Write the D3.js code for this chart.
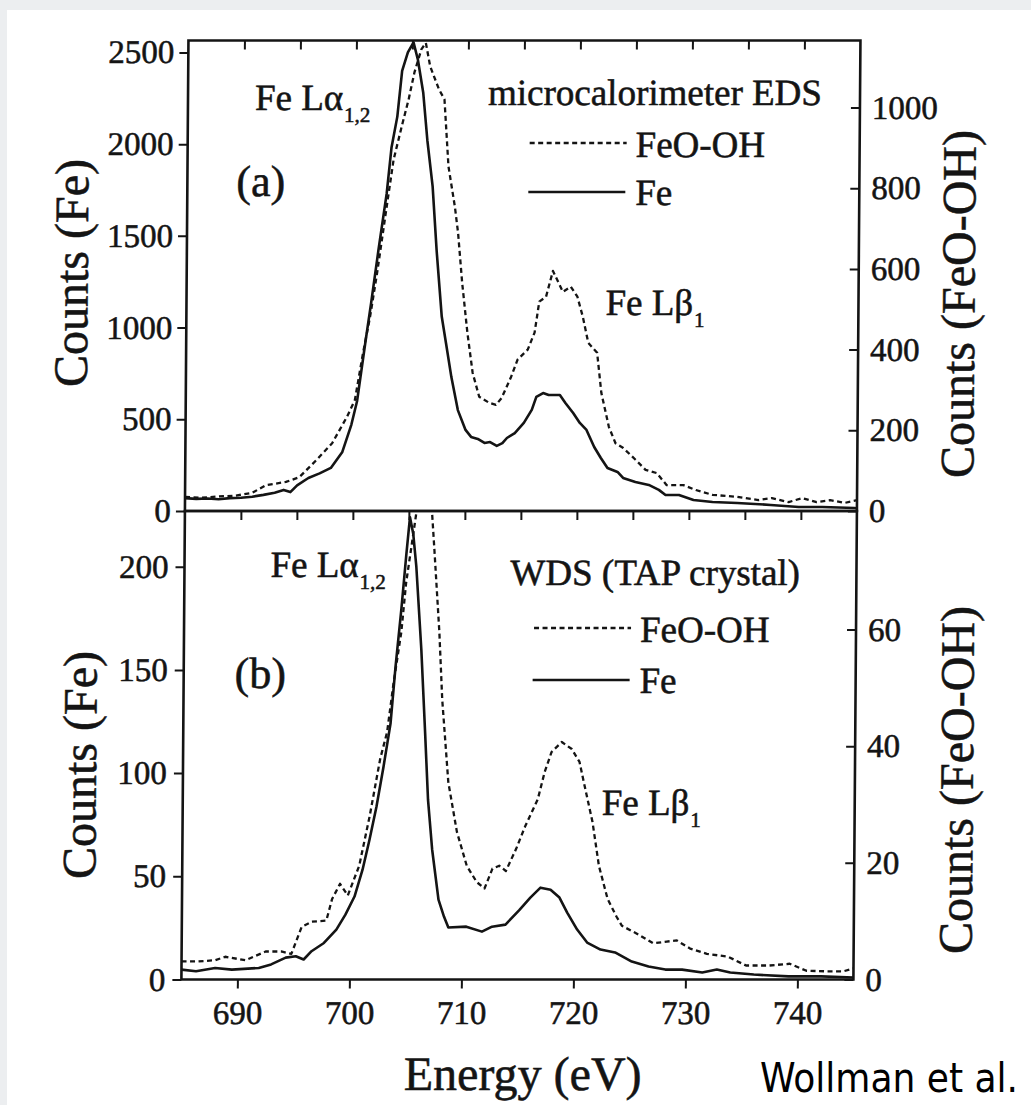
<!DOCTYPE html>
<html>
<head>
<meta charset="utf-8">
<script src="https://cdn.jsdelivr.net/npm/d3@7"></script>
<style>
  html, body { margin: 0; padding: 0; background: #eceef0; }
  svg { display: block; }
</style>
</head>
<body>
<svg id="chart" width="1031" height="1105"></svg>
<script>
// ---- axis ranges and tick values ----
const energyDomain = [685, 745];
const energyTicks = [690, 700, 710, 720, 730, 740];
const energyMinorTicks = [690, 695, 700, 705, 710, 715, 720, 725, 730, 735, 740];

const edsFeMax = 2565, edsOxMax = 1166;
const edsFeTicks = [0, 500, 1000, 1500, 2000, 2500];
const edsOxTicks = [0, 200, 400, 600, 800, 1000];

const wdsFeMax = 227, wdsOxMax = 80.3;
const wdsFeTicks = [0, 50, 100, 150, 200];
const wdsOxTicks = [0, 20, 40, 60];

// ---- (a) microcalorimeter EDS spectra: [energy eV, counts] ----
const edsFe = [
  [685.0,70],[686.0,66],[687.0,68],[688.0,64],[689.0,70],[690.0,72],[691.0,78],[692.0,88],
  [693.0,100],[693.8,115],[694.4,103],[695.0,140],[696.0,180],[697.0,205],[698.0,235],
  [699.0,320],[699.8,470],[700.3,600],[701.0,920],[701.5,1140],[702.1,1420],[702.8,1730],
  [703.2,1980],[703.7,2150],[704.1,2400],[704.6,2500],[705.1,2555],[705.5,2460],[706.0,2280],
  [706.4,2020],[706.9,1770],[707.3,1420],[707.8,1060],[708.2,915],[708.7,730],[709.3,550],
  [710.0,442],[710.5,404],[711.1,393],[711.7,371],[712.2,376],[712.8,355],[713.3,370],
  [713.7,398],[714.4,425],[715.2,480],[715.9,551],[716.3,622],[716.9,643],[717.4,632],
  [718.4,632],[718.9,589],[719.6,534],[720.2,480],[720.8,442],[721.5,349],[722.1,289],
  [722.7,234],[723.6,213],[724.1,180],[725.2,158],[726.4,142],[727.3,115],[727.9,87],
  [729.1,87],[730.4,60],[732.1,49],[734.3,44],[737.3,33],[739.8,22],[741.9,22],[744.8,16],[745.0,15]
];
const edsFeOOH = [
  [685.0,35],[686.5,33],[688.0,36],[689.5,38],[691.0,45],[692.2,64],[694.0,72],[695.2,84],
  [696.7,126],[698.1,168],[699.4,233],[700.1,275],[700.8,392],[701.4,481],[702.0,590],
  [702.9,772],[703.4,871],[704.1,953],[704.7,1020],[705.2,1087],[705.8,1144],[706.2,1160],
  [706.6,1102],[707.4,1045],[707.9,1020],[708.3,854],[708.9,754],[709.2,690],[709.6,566],
  [710.1,442],[710.6,342],[711.2,283],[712.1,268],[712.7,263],[713.2,280],[714.0,330],
  [714.6,375],[715.5,400],[716.1,442],[716.5,519],[717.1,531],[717.7,595],[718.2,566],
  [718.6,543],[719.3,556],[719.9,531],[720.4,481],[720.9,417],[721.7,392],[722.1,293],
  [722.8,208],[723.4,168],[724.1,156],[725.2,127],[726.1,102],[727.1,94],[728.0,64],
  [729.5,64],[730.6,52],[732.1,40],[734.3,35],[736.2,27],[737.4,32],[738.9,22],[740.1,32],
  [741.4,22],[742.6,27],[743.9,20],[745.0,27]
];

// ---- (b) WDS (TAP crystal) spectra: [energy eV, counts] ----
const wdsFe = [
  [685.0,4.8],[686.3,4.0],[688.0,5.6],[689.5,4.8],[691.9,5.6],[693.0,7.3],[694.3,10.6],
  [695.2,11.3],[695.9,9.7],[696.6,13.7],[697.7,17.7],[698.8,24.2],[699.6,31.4],[700.4,40.2],
  [701.1,53.2],[701.7,67.7],[702.3,83.7],[702.9,103],[703.5,124],[703.9,151],[704.4,180],
  [704.8,206],[705.1,224],[705.4,216],[705.7,200],[706.2,160],[706.6,119],[706.9,87],
  [707.3,63],[707.9,38.7],[708.4,30.5],[708.8,25.2],[710.4,25.6],[711.8,23.2],[712.7,25.6],
  [713.9,26.6],[715.1,33.5],[716.1,39.7],[717.0,44.5],[717.9,43.5],[718.7,39.7],[719.4,32.4],
  [720.3,24.2],[721.2,17.9],[722.4,14.5],[723.7,13.1],[725.2,8.7],[726.7,6.3],[728.2,4.8],
  [729.7,4.8],[731.5,3.4],[732.8,4.8],[734.0,3.4],[736.1,2.4],[739.2,1.5],[742.1,1.5],[745.0,1.0]
];
const wdsFeOOH = [
  [685.0,3.1],[686.5,3.1],[688.0,3.3],[688.9,3.9],[690.7,3.3],[692.5,4.8],[693.9,4.8],
  [694.8,4.4],[695.7,9.0],[696.6,9.9],[697.9,10.1],[698.4,13.8],[699.1,16.4],[699.8,14.4],
  [700.8,19.5],[701.7,28],[702.6,37.8],[703.2,42.4],[703.75,50.9],[704.4,59.5],[704.8,68],
  [705.3,74.9],[705.7,80.5],[706.2,83],[706.7,83],[707.05,80.5],[707.3,73.7],[707.8,59.5],
  [708.1,48],[708.7,33.8],[709.5,25.3],[710.4,19.5],[711.3,16.7],[712.0,15.6],[712.7,19],
  [713.3,19.5],[713.9,18.6],[714.8,22.4],[715.6,26.3],[716.7,30.9],[717.3,35.6],[717.9,39],
  [718.8,40.7],[719.7,39.5],[720.4,37.3],[720.8,33.8],[721.6,27],[722.2,19.5],[723.0,13.8],
  [723.8,10.8],[724.3,9.2],[725.6,7.9],[727.1,6.2],[728.3,6.5],[729.2,6.7],[730.4,5.3],
  [731.9,4.4],[733.8,3.9],[735.4,2.4],[737.5,2.4],[739.3,2.7],[740.8,1.5],[742.6,1.4],
  [744.1,1.4],[745.0,1.9]
];

// ---- layout ----
const W = 1031, H = 1105;
const L = 185, R = 857;
const T1 = 40.5, MID = 511, B2 = 979.5;
const SERIF = "'Liberation Serif', 'Times New Roman', serif";
const INK = "#141414";
const TEXT_WEIGHT = 0.55;   // slight outline so the serif glyphs print heavier
const plain = d3.format("d");

const svg = d3.select("#chart");
svg.append("rect").attr("x", 7).attr("y", 10).attr("width", W - 7).attr("height", H - 10).attr("fill", "#ffffff");

// the printed figure sits with a very slight lean
const g = svg.append("g").attr("transform", "translate(0,500) skewX(-0.43) translate(0,-500)");

const x = d3.scaleLinear(energyDomain, [L, R]);

function styleAxis(sel, size) {
  sel.attr("font-family", SERIF).attr("font-size", size).attr("color", INK);
  sel.select(".domain").remove();
  sel.selectAll(".tick line").attr("stroke-width", 2);
  sel.selectAll(".tick text").attr("stroke", INK).attr("stroke-width", TEXT_WEIGHT);
}

function drawPanel(p) {
  const yFe = d3.scaleLinear([0, p.feMax], [p.bottom, p.top]);
  const yOx = d3.scaleLinear([0, p.oxMax], [p.bottom, p.top]);

  const clipId = "clip-" + p.key;
  g.append("clipPath").attr("id", clipId)
    .append("rect").attr("x", L).attr("y", p.top).attr("width", R - L).attr("height", p.bottom - p.top);

  const plot = g.append("g").attr("clip-path", `url(#${clipId})`);
  const lineFe = d3.line().x(d => x(d[0])).y(d => yFe(d[1]));
  const lineOx = d3.line().x(d => x(d[0])).y(d => yOx(d[1]));

  plot.append("path").datum(p.ox).attr("d", lineOx)
    .attr("fill", "none").attr("stroke", INK).attr("stroke-width", 2.3)
    .attr("stroke-dasharray", "5,3.5").attr("stroke-linejoin", "round");
  plot.append("path").datum(p.fe).attr("d", lineFe)
    .attr("fill", "none").attr("stroke", INK).attr("stroke-width", 2.6)
    .attr("stroke-linejoin", "round");

  // left axis (Fe counts), ticks outward
  g.append("g").attr("transform", `translate(${L},0)`)
    .call(d3.axisLeft(yFe).tickValues(p.feTicks).tickFormat(plain)
      .tickSize(9).tickPadding(p.leftPad).tickSizeOuter(0))
    .call(s => styleAxis(s, 33));

  // right axis (FeO-OH counts), ticks inward
  g.append("g").attr("transform", `translate(${R},0)`)
    .call(d3.axisRight(yOx).tickValues(p.oxTicks).tickFormat(plain)
      .tickSizeInner(-9).tickPadding(12).tickSizeOuter(0))
    .call(s => styleAxis(s, 33));

  // frame
  g.append("rect").attr("x", L).attr("y", p.top).attr("width", R - L).attr("height", p.bottom - p.top)
    .attr("fill", "none").attr("stroke", INK).attr("stroke-width", 2.6);
}

drawPanel({ key: "eds", top: T1, bottom: MID, feMax: edsFeMax, oxMax: edsOxMax,
  feTicks: edsFeTicks, oxTicks: edsOxTicks, fe: edsFe, ox: edsFeOOH, leftPad: 5 });
drawPanel({ key: "wds", top: MID, bottom: B2, feMax: wdsFeMax, oxMax: wdsOxMax,
  feTicks: wdsFeTicks, oxTicks: wdsOxTicks, fe: wdsFe, ox: wdsFeOOH, leftPad: 7 });

// energy ticks: inward along the top of (a), below the shared edge, and labelled at the bottom
g.append("g").attr("transform", `translate(0,${T1})`)
  .call(d3.axisTop(x).tickValues(energyMinorTicks).tickSize(-9).tickFormat(""))
  .call(s => styleAxis(s, 33));
g.append("g").attr("transform", `translate(0,${MID})`)
  .call(d3.axisBottom(x).tickValues(energyMinorTicks).tickSize(9).tickFormat(""))
  .call(s => styleAxis(s, 33));
g.append("g").attr("transform", `translate(0,${B2})`)
  .call(d3.axisBottom(x).tickValues(energyTicks).tickFormat(plain)
    .tickSize(9).tickPadding(12).tickSizeOuter(0))
  .call(s => styleAxis(s, 33));

// ---- text ----
function label(txt, px, py, size, anchor) {
  return g.append("text").attr("x", px).attr("y", py).attr("font-family", SERIF)
    .attr("font-size", size).attr("fill", INK).attr("stroke", INK).attr("stroke-width", TEXT_WEIGHT)
    .attr("text-anchor", anchor || "start").text(txt);
}
function lineLabel(main, sub, px, py) {
  const t = g.append("text").attr("x", px).attr("y", py).attr("font-family", SERIF)
    .attr("font-size", 37).attr("fill", INK).attr("stroke", INK).attr("stroke-width", TEXT_WEIGHT);
  t.append("tspan").text(main);
  t.append("tspan").attr("font-size", 21).attr("dy", 12).attr("dx", 1).text(sub);
}
function legend(px, yDash, ySolid) {
  g.append("line").attr("x1", px).attr("x2", px + 97).attr("y1", yDash).attr("y2", yDash)
    .attr("stroke", INK).attr("stroke-width", 2.3).attr("stroke-dasharray", "5,3.5");
  g.append("line").attr("x1", px - 1).attr("x2", px + 96).attr("y1", ySolid).attr("y2", ySolid)
    .attr("stroke", INK).attr("stroke-width", 2.6);
  label("FeO-OH", px + 106, yDash + 14, 37);
  label("Fe", px + 106, ySolid + 13, 37);
}
function vTitle(txt, px, py) {
  g.append("text").attr("transform", `translate(${px},${py}) rotate(-90)`)
    .attr("font-family", SERIF).attr("font-size", 48).attr("fill", INK)
    .attr("stroke", INK).attr("stroke-width", TEXT_WEIGHT)
    .attr("text-anchor", "middle").text(txt);
}

// panel (a)
lineLabel("Fe L\u03b1", "1,2", 252, 110);
label("(a)", 234, 196, 44);
label("microcalorimeter EDS", 485, 105, 37);
legend(527, 143, 192);
lineLabel("Fe L\u03b2", "1", 604, 315);

// panel (b)
lineLabel("Fe L\u03b1", "1,2", 271, 577);
label("(b)", 236, 688, 44);
label("WDS (TAP crystal)", 511, 585, 37);
legend(535, 628, 680);
lineLabel("Fe L\u03b2", "1", 604, 815);

// axis titles
vTitle("Counts (Fe)", 86, 273);
vTitle("Counts (Fe)", 98, 765);
vTitle("Counts (FeO-OH)", 973, 304);
vTitle("Counts (FeO-OH)", 975, 780);
label("Energy (eV)", 527, 1090, 48, "middle");

// credit
svg.append("text").attr("x", 760).attr("y", 1092)
  .attr("font-family", "'DejaVu Sans Condensed', 'DejaVu Sans', sans-serif")
  .attr("font-size", 40).attr("fill", "#000")
  .attr("textLength", 258).attr("lengthAdjust", "spacingAndGlyphs")
  .text("Wollman et al.");
</script>
</body>
</html>
